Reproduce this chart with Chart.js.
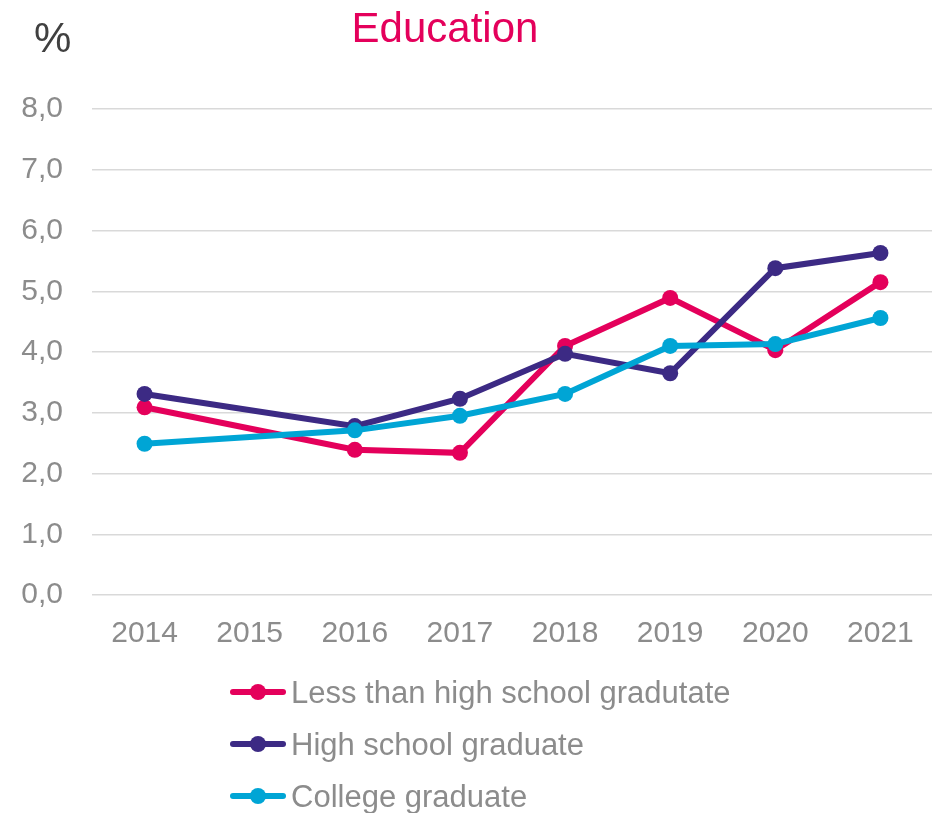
<!DOCTYPE html>
<html>
<head>
<meta charset="utf-8">
<script src="https://cdn.jsdelivr.net/npm/chart.js@4.4.1/dist/chart.umd.min.js"></script>
<style>
  html, body { margin: 0; padding: 0; background: #ffffff; }
  body { width: 932px; height: 813px; position: relative; overflow: hidden; font-family: "Liberation Sans", Arial, sans-serif; }
  #wrap { position: absolute; left: 0; top: 0; width: 932px; height: 684px; overflow: hidden; }
  #pct { position: absolute; left: 34px; top: 17px; font-size: 42px; line-height: 42px; color: #404040; }
  #title { position: absolute; left: 445px; top: 7px; transform: translateX(-50%); font-size: 42px; line-height: 42px; color: #E4005B; white-space: nowrap; }
  #legend { position: absolute; left: 230px; top: 666px; }
  .row { height: 52px; display: flex; align-items: center; }
  .mk { position: relative; width: 56px; height: 16px; margin-right: 5px; }
  .mk .ln { position: absolute; left: 0; top: 5px; width: 56px; height: 6px; border-radius: 3px; }
  .mk .dt { position: absolute; left: 20px; top: 0; width: 16px; height: 16px; border-radius: 50%; }
  .tx { font-size: 31px; line-height: 31px; color: #8C8C8C; white-space: nowrap; }
</style>
</head>
<body>
<div id="wrap"><canvas id="c" width="941" height="681"></canvas></div>
<div id="pct">%</div>
<div id="title">Education</div>
<div id="legend"></div>
<script>
const years = ['2014', '2015', '2016', '2017', '2018', '2019', '2020', '2021'];
const lessThanHighSchool = [3.09, null, 2.39, 2.34, 4.10, 4.89, 4.03, 5.15];
const highSchoolGraduate = [3.31, null, 2.78, 3.23, 3.97, 3.65, 5.38, 5.63];
const collegeGraduate = [2.49, null, 2.71, 2.95, 3.31, 4.10, 4.13, 4.56];
const seriesNames = ['Less than high school gradutate', 'High school graduate', 'College graduate'];
const seriesColors = ['#E4005B', '#3C2A84', '#00A5D5'];

const seriesData = [lessThanHighSchool, highSchoolGraduate, collegeGraduate];

const datasets = seriesData.map((d, i) => ({
  label: seriesNames[i],
  data: d,
  borderColor: seriesColors[i],
  backgroundColor: seriesColors[i],
  pointBackgroundColor: seriesColors[i],
  pointBorderWidth: 0,
  pointRadius: 8,
  borderWidth: 6,
  tension: 0,
  spanGaps: true,
  order: 3 - i
}));

new Chart(document.getElementById('c'), {
  type: 'line',
  data: { labels: years, datasets: datasets },
  options: {
    responsive: false,
    animation: false,
    devicePixelRatio: 1,
    layout: { padding: { top: 109, right: 0, bottom: 8, left: 0 } },
    plugins: { legend: { display: false }, title: { display: false }, tooltip: { enabled: false } },
    scales: {
      x: {
        offset: true,
        grid: { display: false, drawTicks: false },
        border: { display: false },
        ticks: { color: '#8C8C8C', font: { family: 'Liberation Sans', size: 30 }, padding: 21, maxRotation: 0, autoSkip: false }
      },
      y: {
        min: 0,
        max: 8,
        afterFit: (s) => { s.width = 92; },
        grid: { color: '#D9D9D9', lineWidth: 1.5, drawTicks: false },
        border: { display: false },
        ticks: {
          stepSize: 1,
          color: '#8C8C8C',
          font: { family: 'Liberation Sans', size: 30 },
          padding: 29,
          callback: (v) => Number(v).toFixed(1).replace('.', ',')
        }
      }
    }
  }
});

const legend = document.getElementById('legend');
seriesNames.forEach((n, i) => {
  const row = document.createElement('div');
  row.className = 'row';
  row.innerHTML = '<div class="mk"><div class="ln" style="background:' + seriesColors[i] + '"></div><div class="dt" style="background:' + seriesColors[i] + '"></div></div><div class="tx"></div>';
  row.querySelector('.tx').textContent = n;
  legend.appendChild(row);
});
</script>
</body>
</html>
